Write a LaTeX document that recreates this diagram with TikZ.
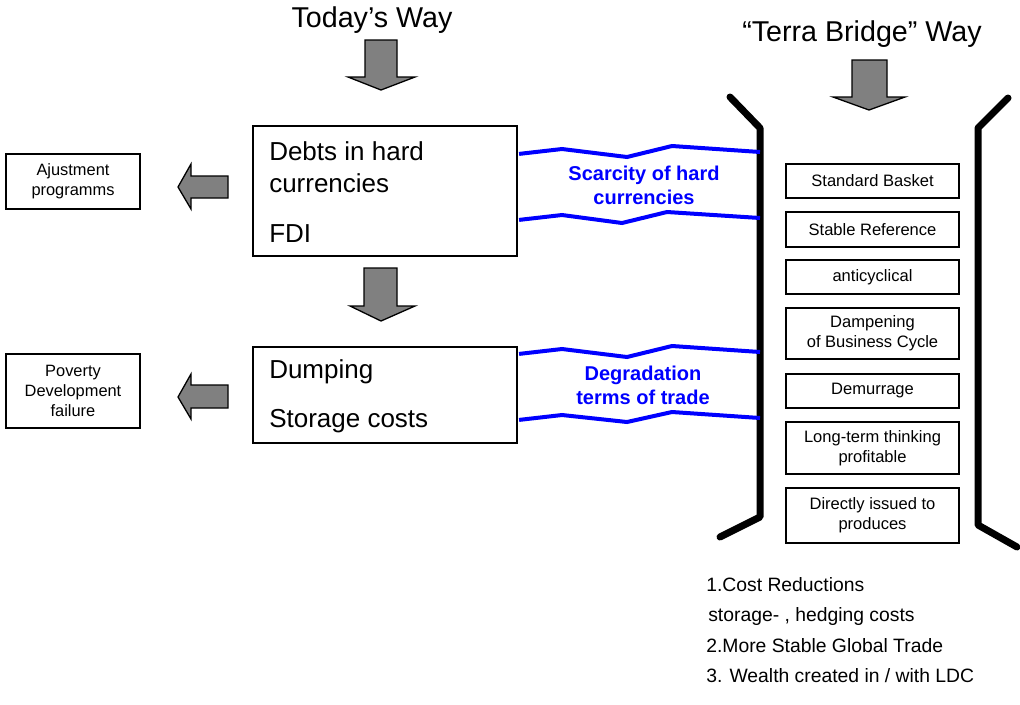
\documentclass[tikz,border=0pt]{standalone}
\usepackage{fontspec}
\setmainfont{Liberation Sans}
\usetikzlibrary{calc}
\definecolor{arrowgray}{HTML}{808080}
\definecolor{pureblue}{RGB}{0,0,255}
\def\px{*0.75pt}
\begin{document}
\begin{tikzpicture}[x=0.75pt,y=-0.75pt,
  fat/.style={draw=black, line width=1.3\px, fill=arrowgray, line join=miter},
  mainbox/.style={draw, line width=2.2\px, minimum width=264\px, inner sep=0pt},
  maintext/.style={anchor=base west, inner sep=0pt, font=\fontsize{19.5}{24}\selectfont},
  sidebox/.style={draw, line width=1.3\px, minimum width=134\px, inner sep=0pt, align=center,
    font=\fontsize{12.3}{15}\selectfont},
  rbox/.style={draw, line width=1.3\px, minimum width=173\px, inner sep=0pt, align=center,
    font=\fontsize{12.4}{15}\selectfont},
  title/.style={anchor=base, inner sep=0pt, font=\fontsize{21.5}{26}\selectfont},
  bluetext/.style={anchor=base, inner sep=0pt, text=pureblue, font=\fontsize{15}{18}\selectfont\bfseries},
  blueline/.style={draw=pureblue, line width=4\px, line join=miter},
  bracket/.style={draw=black, line width=7\px, line cap=round, line join=round},
  listtext/.style={anchor=base west, inner sep=0pt, font=\fontsize{14.5}{17}\selectfont}
]
\useasboundingbox (0,0) rectangle (1020,704);

% titles
\node[title] (today) at (372,27) {Today’s Way};
\node[title] (terra) at (862,41) {“Terra Bridge” Way};

% big down arrows
\draw[fat] (365,40) -- (397,40) -- (397,77) -- (415,77) -- (381,90) -- (348,77) -- (365,77) -- cycle;
\draw[fat] (364,268) -- (397,268) -- (397,306) -- (415,306) -- (381,321) -- (350,306) -- (364,306) -- cycle;
\draw[fat] (852,60) -- (887,60) -- (887,97) -- (905,97) -- (869,110) -- (833,97) -- (852,97) -- cycle;

% left arrows
\draw[fat] (228,176) -- (228,198) -- (191,198) -- (191,209) -- (178,187) -- (191,164) -- (191,176) -- cycle;
\draw[fat] (228,385) -- (228,408) -- (191,408) -- (191,419) -- (178,397) -- (191,374) -- (191,385) -- cycle;

% main boxes
\node[mainbox, minimum height=130\px] (debts) at (385,191) {};
\node[maintext] (debtsA) at (269,160) {Debts in hard};
\node[maintext] (debtsB) at (269,192) {currencies};
\node[maintext] (fdi) at (269,242) {FDI};

\node[mainbox, minimum height=96\px] (dump) at (385,395) {};
\node[maintext] (dumpA) at (269,378) {Dumping};
\node[maintext] (dumpB) at (269,427) {Storage costs};

% side boxes
\node[sidebox, minimum height=55\px] (ajust) at (73,181.5) {Ajustment\\programms};
\node[sidebox, minimum height=74\px] (poverty) at (73,391) {Poverty\\Development\\failure};

% brackets
\coordinate (lb1) at (730,97);
\coordinate (lb2) at (760,128);
\coordinate (lb3) at (760,517);
\coordinate (lb4) at (720,537);
\coordinate (rb1) at (1008,98);
\coordinate (rb2) at (978,128);
\coordinate (rb3) at (978,525);
\coordinate (rb4) at (1017,547);
\draw[bracket] (lb1) -- (lb2) -- (lb3) -- (lb4);
\draw[bracket] (rb1) -- (rb2) -- (rb3) -- (rb4);

% blue wavy lines
\draw[blueline] ($(debts.north east)+(1,29)$) -- (562,149) -- (627,157) -- (672,146) -- ($(lb2)+(0,24)$);
\draw[blueline] ($(debts.north east)+(1,95)$) -- (562,215) -- (622,223) -- (667,212) -- ($(lb2)+(0,90)$);
\draw[blueline] ($(dump.north east)+(1,8)$) -- (562,349) -- (627,357) -- (672,346) -- ($(lb2)+(0,224)$);
\draw[blueline] ($(dump.north east)+(1,74)$) -- (562,415) -- (627,422) -- (672,412) -- ($(lb2)+(0,290)$);

\node[bluetext] (scA) at (644,180) {Scarcity of hard};
\node[bluetext] (scB) at (644,204) {currencies};
\node[bluetext] (dgA) at (643,380) {Degradation};
\node[bluetext] (dgB) at (643,404) {terms of trade};

% right column boxes
\node[rbox, minimum height=34\px] (basket) at (872.5,181) {Standard Basket};
\node[rbox, minimum height=35\px] (stable) at (872.5,229.5) {Stable Reference};
\node[rbox, minimum height=34\px] (anti) at (872.5,277) {anticyclical};
\node[rbox, minimum height=51\px] (damp) at (872.5,333.5) {Dampening\\of Business Cycle};
\node[rbox, minimum height=34\px] (demur) at (872.5,391) {Demurrage};
\node[rbox, minimum height=52\px] (longterm) at (872.5,448) {Long-term thinking\\profitable};
\node[rbox, minimum height=55\px] (direct) at (872.5,515.5) {Directly issued to\\produces};

% bottom list
\node[listtext] (l1) at (706,591) {1.Cost Reductions};
\node[listtext] (l2) at (708,621) {storage- , hedging costs};
\node[listtext] (l3) at (706,652) {2.More Stable Global Trade};
\node[listtext] (l4) at (706,682) {3. Wealth created in / with LDC};
\end{tikzpicture}
\end{document}
